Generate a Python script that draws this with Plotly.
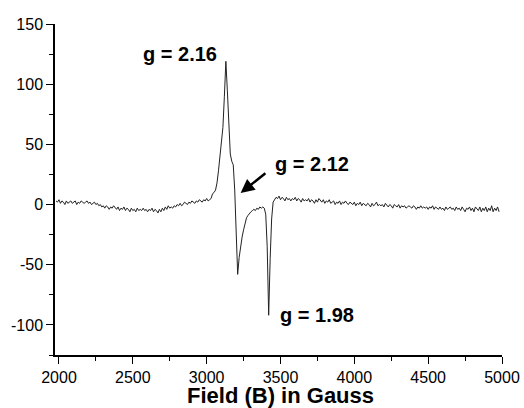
import plotly.graph_objects as go

# Field sampling grid (Gauss), 10 G steps
field = list(range(1980, 4990, 10))

# EPR signal (one row = 100 G)
signal = [
    3, 2, 4, 1, 3, 2, 0, 3, 1, 2,          # 1980-2070
    3, 1, 2, 3, 0, 2, 1, 3, 2, 1,          # 2080-2170
    2, 3, 1, 2, 0, 1, 2, 0, 1, -1,         # 2180-2270
    0, -2, -1, -3, -1, -2, -4, -2, -3, -1, # 2280-2370
    -3, -4, -2, -5, -3, -4, -2, -5, -3, -4,# 2380-2470
    -6, -3, -5, -4, -6, -3, -5, -4, -5, -3,# 2480-2570
    -5, -4, -6, -4, -5, -3, -6, -4, -5, -7,# 2580-2670
    -4, -6, -3, -5, -2, -4, -1, -3, -2, -3,# 2680-2770
    -1, -2, 0, -1, 1, -1, 0, 2, 1, 0,      # 2780-2870
    2, 1, 3, 2, 1, 3, 2, 4, 3, 2,          # 2880-2970
    4, 3, 5, 3, 4, 5, 9, 10, 12, 18,       # 2980-3070
    28, 40, 52, 64, 90, 119, 95, 62, 42, 36,      # 3080-3170
    33, 12, -30, -58, -44, -34, -27, -21, -16, -11,  # 3180-3270
    -9, -7, -6, -5, -4, -5, -3, -4, -2, -3,  # 3280-3370
    -2, -3, -8, -35, -92, -45, -12, 2, 4, 6, # 3380-3470
    5, 7, 4, 6, 5, 3, 6, 4, 5, 3,          # 3480-3570
    5, 4, 6, 3, 5, 4, 2, 5, 3, 4,          # 3580-3670
    3, 5, 2, 4, 3, 1, 4, 2, 5, 3,          # 3680-3770
    2, 4, 1, 3, 2, 4, 1, 2, 3, 0,          # 3780-3870
    2, 1, 3, 0, 2, 1, 3, 1, 0, 2,          # 3880-3970
    1, 0, 2, -1, 1, 0, 2, -1, 1, 0,        # 3980-4070
    -1, 1, 0, -2, 1, -1, 0, 2, -1, 0,      # 4080-4170
    -1, 0, -2, 1, -1, -2, 0, -1, -3, 0,    # 4180-4270
    -1, -2, 0, -3, -1, -2, -1, -3, -2, -1, # 4280-4370
    -2, -3, -1, -2, -4, -2, -3, -1, -3, -2,# 4380-4470
    -3, -2, -4, -2, -3, -1, -4, -2, -3, -4,# 4480-4570
    -2, -4, -3, -5, -2, -4, -3, -2, -4, -3,# 4580-4670
    -5, -2, -4, -3, -5, -2, -4, -6, -3, -4,# 4680-4770
    -2, -5, -3, -6, -2, -4, -5, -2, -6, -3,# 4780-4870
    -5, -2, -6, -3, -5, -1, -6, -3, -5, -2,# 4880-4970
    -6,                                    # 4980
]

x_ticks = [2000, 2500, 3000, 3500, 4000, 4500, 5000]
x_ticktext = ["2000", "2500", "3000", "3500", "4000", "4500", "5000"]
y_ticks = [-100, -50, 0, 50, 100, 150]
y_ticktext = ["-100", "-50", "0", "50", "100", "150"]

labels = ["g = 2.16", "g = 2.12", "g = 1.98"]
label_x = [2819, 3710, 3747]
label_y = [125, 33.6, -91.8]

x_title = "Field (B) in Gauss"

fig = go.Figure()
fig.add_trace(go.Scatter(x=field, y=signal, mode="lines",
                         line=dict(color="#222222", width=1), showlegend=False))

font_family = "Liberation Sans, Arial, sans-serif"

for t, xv, yv in zip(labels, label_x, label_y):
    fig.add_annotation(x=xv, y=yv, xref="x", yref="y", text="<b>%s</b>" % t,
                       showarrow=False, font=dict(size=20, color="black", family=font_family))

# arrow pointing at g = 2.12 feature
fig.add_annotation(x=3230, y=9.6, ax=3408, ay=27, xref="x", yref="y", axref="x", ayref="y",
                   text="", showarrow=True, arrowhead=2, arrowsize=1.1, arrowwidth=2.5,
                   arrowcolor="black")

# x-axis title as annotation (precise placement)
fig.add_annotation(x=0.505, y=-0.162, xref="paper", yref="paper", text="<b>%s</b>" % x_title,
                   showarrow=False, xanchor="center", yanchor="bottom", borderpad=0,
                   font=dict(size=22, color="black", family=font_family))

fig.update_layout(
    width=524, height=408,
    margin=dict(l=55, r=22, t=24, b=53),
    paper_bgcolor="white", plot_bgcolor="white",
    font=dict(family=font_family, size=16, color="black"),
    xaxis=dict(range=[1973, 5000], tickvals=x_ticks, ticktext=x_ticktext, showgrid=False, zeroline=False,
               showline=True, linecolor="black", linewidth=1.5, automargin=False,
               ticks="outside", ticklen=7, tickwidth=1.2, tickcolor="black",
               minor=dict(dtick=250, tick0=2000, ticks="outside", ticklen=4, tickwidth=1.2, tickcolor="black")),
    yaxis=dict(range=[-125, 150], tickvals=y_ticks, ticktext=y_ticktext, showgrid=False, zeroline=False,
               showline=True, linecolor="black", linewidth=1.5, automargin=False,
               ticks="outside", ticklen=7, tickwidth=1.2, tickcolor="black",
               minor=dict(dtick=25, tick0=0, ticks="outside", ticklen=4, tickwidth=1.2, tickcolor="black")),
)

fig.write_html("out.html", config={"displayModeBar": False},
               post_script="document.body.style.margin='0';document.body.style.overflow='hidden';")
